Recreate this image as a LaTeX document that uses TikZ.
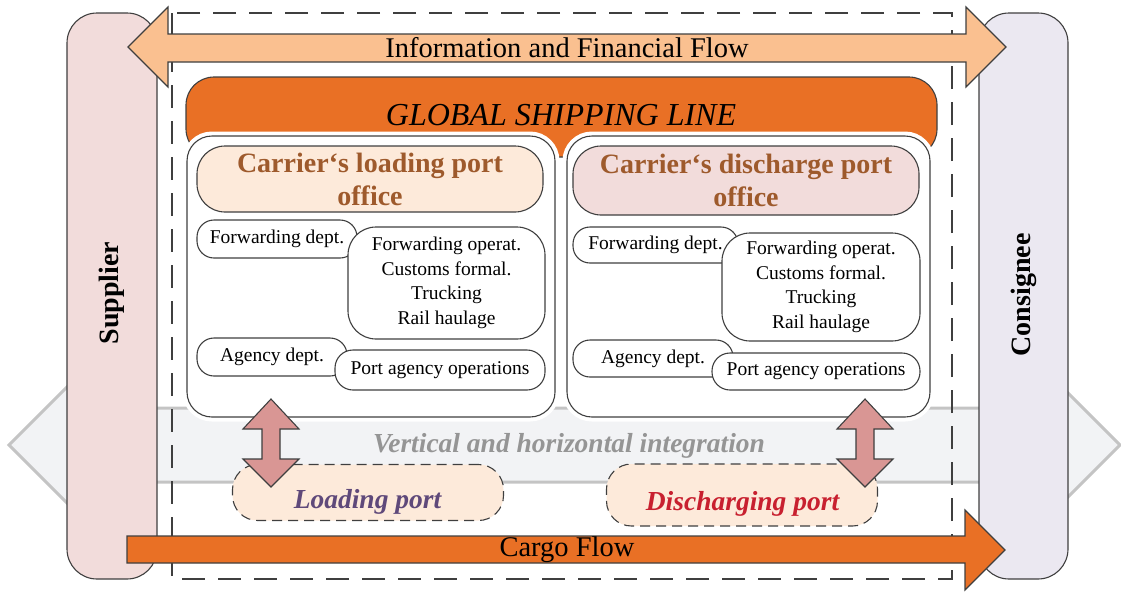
\documentclass[tikz,border=0pt]{standalone}
\usepackage{fontspec}
\setmainfont{Liberation Serif}
\definecolor{edge}{HTML}{3F3F3F}
\definecolor{suppl}{HTML}{F2DCDB}
\definecolor{consg}{HTML}{EBE8F1}
\definecolor{infof}{HTML}{FAC090}
\definecolor{orng}{HTML}{E97025}
\definecolor{peach}{HTML}{FDEADA}
\definecolor{hdtext}{HTML}{9E5A2C}
\definecolor{bandf}{HTML}{F2F3F5}
\definecolor{bandl}{HTML}{C4C4C4}
\definecolor{vtext}{HTML}{959595}
\definecolor{varrow}{HTML}{D99694}
\definecolor{lptext}{HTML}{5F497A}
\definecolor{dptext}{HTML}{C8202F}
\tikzset{
  box/.style={draw=edge, line width=1.1pt, inner sep=0pt, outer sep=0pt, align=center},
  sidebox/.style={box, rounded corners=30pt, minimum width=90pt, minimum height=566pt},
  officebox/.style={box, fill=white, rounded corners=25pt, minimum height=281pt,
     preaction={draw=white, line width=9pt}},
  headbox/.style={box, rounded corners=28pt, minimum width=346pt,
     font=\fontsize{28pt}{33pt}\selectfont\bfseries, text=hdtext},
  subbox/.style={box, fill=white, font=\fontsize{19.5pt}{24.5pt}\selectfont},
  portbox/.style={box, fill=peach, dash pattern=on 10pt off 6pt, rounded corners=25pt,
     minimum width=271pt},
  porttext/.style={inner sep=0pt, anchor=base, font=\fontsize{27.5pt}{30pt}\selectfont\bfseries\itshape},
  blockarrow/.style={draw=edge, line width=1.1pt, line join=miter},
  flowtext/.style={font=\fontsize{28.5pt}{33pt}\selectfont, inner sep=0pt}
}
\begin{document}
\begin{tikzpicture}[x=1pt,y=-1pt]
\useasboundingbox (0,0) rectangle (1121,592);

% gray integration band arrow
\draw[draw=bandl, line width=3pt, fill=bandf, line join=miter]
  (75,379) -- (9,445) -- (75,511) -- (75,482) -- (1054,482) -- (1054,511)
  -- (1120,445) -- (1054,379) -- (1054,408) -- (75,408) -- cycle;

% supplier and consignee
\node[sidebox, fill=suppl] (supplier) at (112,296) {};
\node[font=\fontsize{28pt}{33pt}\selectfont\bfseries, rotate=90] (suppliertext) at (112,293) {Supplier};
\node[sidebox, fill=consg, minimum width=89pt] (consignee) at (1023.5,296) {};
\node[font=\fontsize{28pt}{33pt}\selectfont\bfseries, rotate=90] (consigneetext) at (1023.5,295) {Consignee};

% dashed frame
\draw[draw=edge, line width=1.2pt, dash pattern=on 23pt off 13pt] (172,13) rectangle (952,579);

% information and financial flow
\draw[blockarrow, fill=infof]
  (128,47) -- (168,7) -- (168,34) -- (966,34) -- (966,7) -- (1006,47)
  -- (966,87) -- (966,62) -- (168,62) -- (168,87) -- cycle;
\node[flowtext] (info) at (567,48) {Information and Financial Flow};

% cargo flow
\draw[blockarrow, fill=orng]
  (127,536) -- (965,536) -- (965,510) -- (1005,550) -- (965,590)
  -- (965,563) -- (127,563) -- cycle;
\node[flowtext] (cargo) at (567,550) {Cargo Flow};

% global shipping line
\node[box, fill=orng, rounded corners=28pt, minimum width=751pt, minimum height=80pt] (gsl) at (561.5,117) {};
\node[font=\fontsize{32pt}{36pt}\selectfont\itshape, inner sep=0pt] (gsltext) at (561,115) {GLOBAL SHIPPING LINE};

% office boxes
\node[officebox, minimum width=368pt] (loadoffice) at (371,276.5) {};
\node[officebox, minimum width=363pt] (dischoffice) at (748.5,276.5) {};

\node[headbox, fill=peach, minimum height=66pt] (loadhead) at (370,179) {Carrier‘s loading port\\office};
\node[headbox, fill=suppl, minimum height=69pt] (dischhead) at (746,180.5) {Carrier‘s discharge port\\office};

% left office departments
\node[subbox, rounded corners=17pt, minimum width=160pt, minimum height=38pt] (lfwd) at (277,239) {Forwarding dept.};
\node[subbox, rounded corners=28pt, minimum width=197pt, minimum height=112pt] (lfwdops) at (446.5,283)
  {Forwarding operat.\\Customs formal.\\Trucking\\Rail haulage};
\node[subbox, rounded corners=17pt, minimum width=150pt, minimum height=38pt] (lagency) at (272,357) {Agency dept.};
\node[subbox, rounded corners=18pt, minimum width=210pt, minimum height=40pt] (lagencyops) at (440,370) {Port agency operations};

% right office departments
\node[subbox, rounded corners=17pt, minimum width=165pt, minimum height=36pt] (rfwd) at (655.5,245) {Forwarding dept.};
\node[subbox, rounded corners=28pt, minimum width=198pt, minimum height=108pt] (rfwdops) at (821,287)
  {Forwarding operat.\\Customs formal.\\Trucking\\Rail haulage};
\node[subbox, rounded corners=17pt, minimum width=160pt, minimum height=37pt] (ragency) at (653,358.5) {Agency dept.};
\node[subbox, rounded corners=18pt, minimum width=208pt, minimum height=37pt] (ragencyops) at (816,371.5) {Port agency operations};

% integration label
\node[font=\fontsize{27.5pt}{30pt}\selectfont\bfseries\itshape, text=vtext, inner sep=0pt, anchor=base] (integration) at (569,452)
  {Vertical and horizontal integration};

% ports
\node[portbox, minimum height=56pt] (loadport) at (368,492.5) {};
\node[porttext, text=lptext] (loadporttext) at (367.5,508) {Loading port};
\node[portbox, minimum height=62pt] (dischport) at (742,495) {};
\node[porttext, text=dptext] (dischporttext) at (742.5,510) {Discharging port};

% vertical double arrows
\foreach \cx/\nm in {271/la, 865/ra}{
  \draw[blockarrow, fill=varrow]
    (\cx,399) -- (\cx+28,429) -- (\cx+9,429) -- (\cx+9,459) -- (\cx+28,459)
    -- (\cx,487) -- (\cx-28,459) -- (\cx-9,459) -- (\cx-9,429) -- (\cx-28,429) -- cycle;
}
\end{tikzpicture}
\end{document}
